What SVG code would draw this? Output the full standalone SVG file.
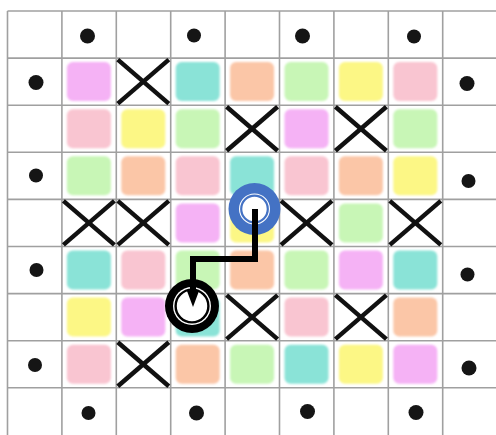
<svg xmlns="http://www.w3.org/2000/svg" width="496" height="435" viewBox="0 0 496 435">
<style>
.grid{stroke:#a0a0a0;stroke-width:1.6;fill:none}
.p{stroke:none;opacity:0.95}
.vi{fill:#f4aef4}.te{fill:#84e2d5}.pe{fill:#fbc3a2}.gr{fill:#c5f6b2}.ye{fill:#fcf77e}.pk{fill:#f9c2cf}
.x{stroke:#111;stroke-width:4.5;stroke-linecap:butt}
.dot{fill:#151515}
.conn{stroke:#000;stroke-width:6;fill:none;stroke-linejoin:miter}
</style>
<defs>
<filter id="soft" x="-10%" y="-10%" width="120%" height="120%"><feGaussianBlur stdDeviation="0.9"/></filter>
<marker id="arr" viewBox="0 0 16 12" refX="0" refY="6" markerWidth="16" markerHeight="12" markerUnits="userSpaceOnUse" orient="auto"><path d="M0,0 L16,6 L0,12 z" fill="#000"/></marker>
<rect id="patch" x="0" y="0" width="44" height="39" rx="6"/>
<g id="xm"><line x1="1.5" y1="1.5" x2="52.5" y2="45.5" class="x"/><line x1="52.5" y1="1.5" x2="1.5" y2="45.5" class="x"/></g>
</defs>
<rect width="496" height="435" fill="#fff"/>
<g id="grid" class="grid">
<line x1="7.5" y1="11" x2="7.5" y2="435"/><line x1="61.9" y1="11" x2="61.9" y2="435"/><line x1="116.3" y1="11" x2="116.3" y2="435"/><line x1="170.7" y1="11" x2="170.7" y2="435"/><line x1="225.1" y1="11" x2="225.1" y2="435"/><line x1="279.5" y1="11" x2="279.5" y2="435"/><line x1="333.9" y1="11" x2="333.9" y2="435"/><line x1="388.3" y1="11" x2="388.3" y2="435"/><line x1="442.7" y1="11" x2="442.7" y2="435"/>
<line x1="7.5" y1="11" x2="496" y2="11"/><line x1="7.5" y1="58.1" x2="496" y2="58.1"/><line x1="7.5" y1="105.2" x2="496" y2="105.2"/><line x1="7.5" y1="152.3" x2="496" y2="152.3"/><line x1="7.5" y1="199.4" x2="496" y2="199.4"/><line x1="7.5" y1="246.5" x2="496" y2="246.5"/><line x1="7.5" y1="293.6" x2="496" y2="293.6"/><line x1="7.5" y1="340.7" x2="496" y2="340.7"/><line x1="7.5" y1="387.8" x2="496" y2="387.8"/>
</g>
<g id="patches" filter="url(#soft)">
<!-- row1 y=62.1 -->
<use href="#patch" class="p vi" x="66.9" y="62.1"/><use href="#patch" class="p te" x="175.7" y="62.1"/><use href="#patch" class="p pe" x="230.1" y="62.1"/><use href="#patch" class="p gr" x="284.5" y="62.1"/><use href="#patch" class="p ye" x="338.9" y="62.1"/><use href="#patch" class="p pk" x="393.3" y="62.1"/>
<!-- row2 y=109.2 -->
<use href="#patch" class="p pk" x="66.9" y="109.2"/><use href="#patch" class="p ye" x="121.3" y="109.2"/><use href="#patch" class="p gr" x="175.7" y="109.2"/><use href="#patch" class="p vi" x="284.5" y="109.2"/><use href="#patch" class="p gr" x="393.3" y="109.2"/>
<!-- row3 y=156.3 -->
<use href="#patch" class="p gr" x="66.9" y="156.3"/><use href="#patch" class="p pe" x="121.3" y="156.3"/><use href="#patch" class="p pk" x="175.7" y="156.3"/><use href="#patch" class="p te" x="230.1" y="156.3"/><use href="#patch" class="p pk" x="284.5" y="156.3"/><use href="#patch" class="p pe" x="338.9" y="156.3"/><use href="#patch" class="p ye" x="393.3" y="156.3"/>
<!-- row4 y=203.4 -->
<use href="#patch" class="p vi" x="175.7" y="203.4"/><use href="#patch" class="p ye" x="230.1" y="203.4"/><use href="#patch" class="p gr" x="338.9" y="203.4"/>
<!-- row5 y=250.5 -->
<use href="#patch" class="p te" x="66.9" y="250.5"/><use href="#patch" class="p pk" x="121.3" y="250.5"/><use href="#patch" class="p gr" x="175.7" y="250.5"/><use href="#patch" class="p pe" x="230.1" y="250.5"/><use href="#patch" class="p gr" x="284.5" y="250.5"/><use href="#patch" class="p vi" x="338.9" y="250.5"/><use href="#patch" class="p te" x="393.3" y="250.5"/>
<!-- row6 y=297.6 -->
<use href="#patch" class="p ye" x="66.9" y="297.6"/><use href="#patch" class="p vi" x="121.3" y="297.6"/><use href="#patch" class="p te" x="175.7" y="297.6"/><use href="#patch" class="p pk" x="284.5" y="297.6"/><use href="#patch" class="p pe" x="393.3" y="297.6"/>
<!-- row7 y=344.7 -->
<use href="#patch" class="p pk" x="66.9" y="344.7"/><use href="#patch" class="p pe" x="175.7" y="344.7"/><use href="#patch" class="p gr" x="230.1" y="344.7"/><use href="#patch" class="p te" x="284.5" y="344.7"/><use href="#patch" class="p ye" x="338.9" y="344.7"/><use href="#patch" class="p vi" x="393.3" y="344.7"/>
</g>
<g id="crosses">
<use href="#xm" x="116.3" y="58.1"/>
<use href="#xm" x="225.1" y="105.2"/><use href="#xm" x="333.9" y="105.2"/>
<use href="#xm" x="61.9" y="199.4"/><use href="#xm" x="116.3" y="199.4"/><use href="#xm" x="279.5" y="199.4"/><use href="#xm" x="388.3" y="199.4"/>
<use href="#xm" x="225.1" y="293.6"/><use href="#xm" x="333.9" y="293.6"/>
<use href="#xm" x="116.3" y="340.7"/>
</g>
<g id="dots" class="dot">
<circle cx="87.5" cy="36" r="7.5"/><circle cx="194" cy="35.5" r="7"/><circle cx="302.5" cy="36" r="7.5"/><circle cx="414" cy="36.5" r="7"/>
<circle cx="36" cy="82.5" r="7.5"/><circle cx="36" cy="175.5" r="7"/><circle cx="36.5" cy="270" r="7"/><circle cx="35" cy="365" r="7"/>
<circle cx="467" cy="83.5" r="7.5"/><circle cx="468.5" cy="181" r="7"/><circle cx="467.5" cy="274.5" r="7"/><circle cx="469" cy="368" r="7.5"/>
<circle cx="88.5" cy="413" r="7"/><circle cx="196.5" cy="413" r="7.5"/><circle cx="307.5" cy="411.5" r="7.5"/><circle cx="416" cy="412.5" r="7.5"/>
</g>
<g id="start">
<circle cx="254.5" cy="209" r="26" fill="#4472c4"/>
<circle cx="254.5" cy="209" r="15.5" fill="#fff"/>
<circle cx="254.5" cy="209" r="13.3" fill="none" stroke="#4472c4" stroke-width="2.2"/>
</g>
<g id="end">
<circle cx="192" cy="306" r="27" fill="#000"/>
<circle cx="192" cy="306" r="19" fill="#fff"/>
<circle cx="192" cy="306" r="16.4" fill="none" stroke="#000" stroke-width="2.4"/>
</g>
<g id="connectors">
<path class="conn" d="M255,209 V259 H193 V291" marker-end="url(#arr)"/>
</g>
</svg>
